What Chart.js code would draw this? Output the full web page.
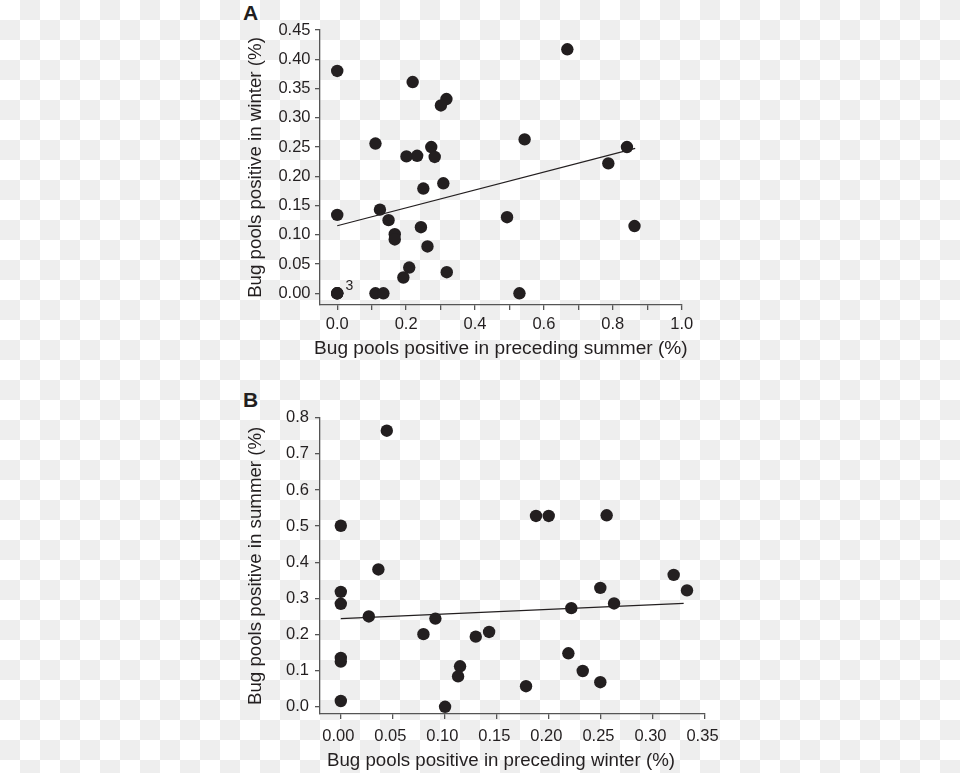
<!DOCTYPE html>
<html>
<head>
<meta charset="utf-8">
<title>Bug pools positive - summer vs winter</title>
<script src="https://cdn.jsdelivr.net/npm/chart.js@4"></script>
<style>
  html, body { margin: 0; padding: 0; }
  body {
    width: 960px; height: 773px; position: relative; overflow: hidden;
    background-color: #fff;
    background-image: conic-gradient(#eeeeee 25%, #ffffff 0 50%, #eeeeee 0 75%, #ffffff 0);
    background-size: 40px 40px;
    font-family: "Liberation Sans", Arial, sans-serif;
  }
  canvas { position: absolute; }
  .tag { position: absolute; font-weight: bold; font-size: 21px; line-height: 1; color: #231f20; }
</style>
</head>
<body>
<div class="tag" style="left:243px; top:2px;">A</div>
<div class="tag" style="left:243px; top:389px;">B</div>
<canvas id="chartA" width="460" height="370" style="left:240px; top:0px;"></canvas>
<canvas id="chartB" width="480" height="393" style="left:240px; top:380px;"></canvas>
<script>
// ---- Panel A: summer (x) vs following winter (y) ----
const summerA = [0, 0, 0, 0, 0, 0.668, 0.219, 0.317, 0.301, 0.111, 0.544, 0.841, 0.787,
  0.201, 0.232, 0.273, 0.283, 0.308, 0.250, 0.124, 0.149, 0.243, 0.167, 0.167, 0.262,
  0.493, 0.863, 0.209, 0.192, 0.318, 0.111, 0.134, 0.529];
const winterA = [0.380, 0.134, 0, 0, 0, 0.417, 0.361, 0.332, 0.321, 0.256, 0.263, 0.250, 0.222,
  0.234, 0.235, 0.250, 0.233, 0.188, 0.179, 0.143, 0.125, 0.113, 0.101, 0.092, 0.080,
  0.130, 0.115, 0.044, 0.027, 0.036, 0, 0, 0];
const fitAx = [0, 0.865];
const fitAy = [0.1154, 0.2478];
const noteAText = ['3'];
const noteAx = [0];
const noteAy = [0];
const xTicksA = [0, 0.1, 0.2, 0.3, 0.4, 0.5, 0.6, 0.7, 0.8, 0.9, 1.0];
const xTickLabelsA = ['0.0', '', '0.2', '', '0.4', '', '0.6', '', '0.8', '', '1.0'];
const yTicksA = [0, 0.05, 0.10, 0.15, 0.20, 0.25, 0.30, 0.35, 0.40, 0.45];
const yTickLabelsA = ['0.00', '0.05', '0.10', '0.15', '0.20', '0.25', '0.30', '0.35', '0.40', '0.45'];

// ---- Panel B: winter (x) vs following summer (y) ----
const winterB = [0.0442, 0, 0.0361, 0, 0, 0.0269, 0.0909, 0.0794, 0.1297, 0.1425, 0, 0,
  0.1146, 0.1127, 0, 0.1002, 0.178, 0.1876, 0.1998, 0.2555, 0.2494, 0.3199, 0.3327,
  0.2626, 0.2215, 0.2187, 0.2325, 0.2494];
const summerB = [0.764, 0.501, 0.380, 0.318, 0.285, 0.250, 0.244, 0.201, 0.194, 0.207, 0.135, 0.125,
  0.112, 0.084, 0.016, 0, 0.057, 0.528, 0.528, 0.530, 0.329, 0.365, 0.322,
  0.286, 0.273, 0.148, 0.099, 0.068];
const fitBx = [0, 0.3295];
const fitBy = [0.2438, 0.2864];
const xTicksB = [0, 0.05, 0.10, 0.15, 0.20, 0.25, 0.30, 0.35];
const xTickLabelsB = ['0.00', '0.05', '0.10', '0.15', '0.20', '0.25', '0.30', '0.35'];
const yTicksB = [0, 0.1, 0.2, 0.3, 0.4, 0.5, 0.6, 0.7, 0.8];
const yTickLabelsB = ['0.0', '0.1', '0.2', '0.3', '0.4', '0.5', '0.6', '0.7', '0.8'];

const INK = '#231f20';
const AXIS = '#555555';
const FONT = '"Liberation Sans", Arial, sans-serif';
Chart.defaults.font.family = FONT;
Chart.defaults.color = INK;

function zip(xs, ys) { return xs.map((x, i) => ({ x: x, y: ys[i] })); }

// small text notes next to data points ("3" = three overlapping points)
// plus the x axis title, drawn here so it can sit off-centre like the original
const notePlugin = {
  id: 'notes',
  afterDatasetsDraw(chart, args, opts) {
    const ctx = chart.ctx, xs = chart.scales.x, ys = chart.scales.y;
    ctx.save();
    ctx.fillStyle = INK;
    if (opts.text && opts.text.length) {
      ctx.font = '14px ' + FONT;
      ctx.textAlign = 'left';
      ctx.textBaseline = 'alphabetic';
      opts.text.forEach((t, i) => {
        ctx.fillText(t, xs.getPixelForValue(opts.x[i]) + 8.3, ys.getPixelForValue(opts.y[i]) - 3.7);
      });
    }
    if (opts.xTitle) {
      ctx.font = opts.xTitleSize + 'px ' + FONT;
      ctx.textAlign = 'center';
      ctx.textBaseline = 'middle';
      ctx.fillText(opts.xTitle, (xs.left + xs.right) / 2 + opts.xTitleDx, xs.bottom - opts.xTitleUp);
    }
    ctx.restore();
  }
};

function axis(o) {
  return {
    type: 'linear',
    min: o.min, max: o.max,
    afterBuildTicks(scale) { scale.ticks = o.ticks.map(v => ({ value: v })); },
    afterFit(scale) {
      if (o.width) scale.width = o.width;
      if (o.height) scale.height = o.height;
      scale.paddingLeft = scale.paddingRight = scale.paddingTop = scale.paddingBottom = 0;
    },
    grid: { drawOnChartArea: false, drawTicks: true, tickLength: 5, color: AXIS, lineWidth: 1.3 },
    border: { display: true, color: AXIS, width: 1.3 },
    ticks: {
      autoSkip: false, maxRotation: 0, padding: o.tickPad, labelOffset: o.labelOffset || 0,
      font: { size: 16.5 }, color: INK,
      callback: (v, i) => o.labels[i]
    },
    title: o.title
      ? { display: true, text: o.title, font: { size: 18.7 }, color: INK, padding: o.titlePad }
      : { display: false }
  };
}

function makePanel(id, cfg) {
  return new Chart(document.getElementById(id), {
    type: 'scatter',
    data: {
      datasets: [
        { data: cfg.points, backgroundColor: INK, borderWidth: 0, pointRadius: 6.2, pointHoverRadius: 6.2, clip: false },
        { type: 'line', data: cfg.fit, showLine: true, borderColor: INK, borderWidth: 1.2, pointRadius: 0, fill: false, clip: false }
      ]
    },
    options: {
      responsive: false, animation: false, devicePixelRatio: 1,
      layout: { padding: cfg.padding },
      plugins: { legend: { display: false }, tooltip: { enabled: false }, notes: cfg.notes },
      scales: { x: cfg.x, y: cfg.y }
    },
    plugins: [notePlugin]
  });
}

makePanel('chartA', {
  points: zip(summerA, winterA),
  fit: zip(fitAx, fitAy),
  notes: { text: noteAText, x: noteAx, y: noteAy,
           xTitle: 'Bug pools positive in preceding summer (%)', xTitleSize: 19.1, xTitleDx: 0, xTitleUp: 21 },
  padding: { top: 30, right: 18.3, bottom: 0, left: 0 },
  x: axis({ min: -0.05, max: 1.0, ticks: xTicksA, labels: xTickLabelsA, height: 65, tickPad: 4.6 }),
  y: axis({ min: -0.02, max: 0.45, ticks: yTicksA, labels: yTickLabelsA, width: 80, tickPad: 4.5,
            title: 'Bug pools positive in winter (%)', titlePad: { top: 4.8, bottom: 0 } })
});

makePanel('chartB', {
  points: zip(winterB, summerB),
  fit: zip(fitBx, fitBy),
  notes: { xTitle: 'Bug pools positive in preceding winter (%)', xTitleSize: 18.7, xTitleDx: -11.5, xTitleUp: 12 },
  padding: { top: 37.7, right: 15, bottom: 0, left: 0 },
  x: axis({ min: -0.02, max: 0.35, ticks: xTicksB, labels: xTickLabelsB, height: 59, tickPad: 7.1, labelOffset: -2.5 }),
  y: axis({ min: -0.02, max: 0.8, ticks: yTicksB, labels: yTickLabelsB, width: 80, tickPad: 6,
            title: 'Bug pools positive in summer (%)', titlePad: { top: 4.8, bottom: 0 } })
});
</script>
</body>
</html>
